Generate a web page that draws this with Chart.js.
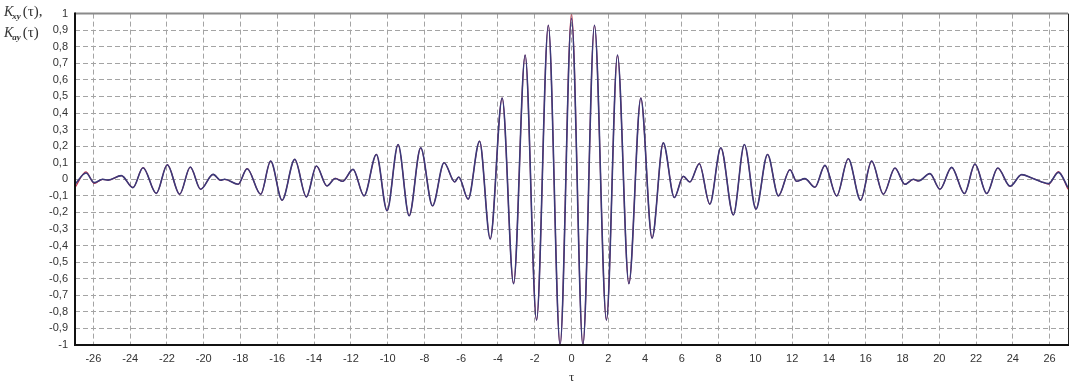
<!DOCTYPE html>
<html>
<head>
<meta charset="utf-8">
<script src="https://cdn.jsdelivr.net/npm/chart.js@4/dist/chart.umd.min.js"></script>
<style>
  html, body { margin: 0; padding: 0; background: #fff; }
  #wrap { position: relative; width: 1074px; height: 388px; }
</style>
</head>
<body>
<div id="wrap"><canvas id="chartCanvas" width="1074" height="388"></canvas></div>
<script>
// Valores (extremos de la curva)
const tau = [
  -27, -26.4, -25.95, -25.5, -25.2, -24.48, -23.85, -23.3, -22.58, -21.98,
  -21.31, -20.73, -20.17, -19.49, -19.08, -18.86, -18.13, -17.64, -16.9, -16.36,
  -15.74, -15.05, -14.42, -13.87, -13.3, -12.85, -12.45, -11.88, -11.28, -10.61,
  -10.03, -9.43, -8.83, -8.2, -7.56, -6.93, -6.35, -6.13, -5.62, -5.0,
  -4.42, -3.77, -3.15, -2.52, -1.9, -1.26, -0.62, 0, 0.62, 1.25,
  1.9, 2.5, 3.12, 3.77, 4.38, 4.99, 5.59, 6.08, 6.44, 6.95,
  7.52, 8.12, 8.8, 9.4, 10.03, 10.66, 11.25, 11.88, 12.24, 12.69,
  13.24, 13.78, 14.42, 15.05, 15.72, 16.32, 16.96, 17.59, 18.13, 18.59,
  18.86, 19.49, 20.04, 20.67, 21.37, 21.94, 22.58, 23.18, 23.85, 24.48,
  25.03, 25.57, 25.94, 26.48, 27
];

const kXY = [
  -0.05, 0.045, -0.025, 0.0, -0.005, 0.022, -0.05, 0.07, -0.085, 0.088,
  -0.09, 0.074, -0.06, 0.03, -0.006, 0.0, -0.03, 0.064, -0.09, 0.11,
  -0.126, 0.12, -0.106, 0.08, -0.04, 0.005, -0.012, 0.06, -0.1, 0.15,
  -0.19, 0.21, -0.22, 0.19, -0.16, 0.1, -0.016, 0.014, -0.12, 0.23,
  -0.36, 0.49, -0.63, 0.75, -0.85, 0.93, -1.0, 1.0, -1.0, 0.93,
  -0.85, 0.75, -0.63, 0.49, -0.355, 0.22, -0.11, 0.018, -0.016, 0.094,
  -0.15, 0.19, -0.215, 0.21, -0.18, 0.15, -0.1, 0.058, -0.012, 0.004,
  -0.048, 0.084, -0.1, 0.124, -0.126, 0.11, -0.09, 0.068, -0.03, 0.0,
  -0.01, 0.034, -0.06, 0.072, -0.086, 0.092, -0.086, 0.068, -0.042, 0.028,
  0.008, -0.016, -0.03, 0.046, -0.06
];

const kAY = [
  -0.03, 0.038, -0.02, 0.0, -0.005, 0.022, -0.05, 0.07, -0.085, 0.088,
  -0.09, 0.074, -0.06, 0.03, -0.006, 0.0, -0.03, 0.064, -0.09, 0.11,
  -0.126, 0.12, -0.106, 0.08, -0.04, 0.005, -0.012, 0.06, -0.1, 0.15,
  -0.19, 0.21, -0.22, 0.19, -0.16, 0.1, -0.016, 0.014, -0.12, 0.23,
  -0.36, 0.49, -0.63, 0.75, -0.85, 0.93, -1.0, 0.97, -1.0, 0.93,
  -0.85, 0.75, -0.63, 0.49, -0.355, 0.22, -0.11, 0.018, -0.016, 0.094,
  -0.15, 0.19, -0.215, 0.21, -0.18, 0.15, -0.1, 0.058, -0.012, 0.004,
  -0.048, 0.084, -0.1, 0.124, -0.126, 0.11, -0.09, 0.068, -0.03, 0.0,
  -0.01, 0.034, -0.06, 0.072, -0.086, 0.092, -0.086, 0.068, -0.042, 0.028,
  0.008, -0.016, -0.026, 0.042, -0.05
];

const xTicks = [-26, -24, -22, -20, -18, -16, -14, -12, -10, -8, -6, -4, -2, 0,
  2, 4, 6, 8, 10, 12, 14, 16, 18, 20, 22, 24, 26];

// Marco del área de trazado y título del eje Y
const framePlugin = {
  id: "frame",
  afterDraw(chart) {
    const { ctx, chartArea } = chart;
    const { left, right, top, bottom } = chartArea;
    ctx.save();
    // borde superior gris
    ctx.strokeStyle = "#8a8a8a";
    ctx.lineWidth = 2;
    ctx.beginPath();
    ctx.moveTo(left, top);
    ctx.lineTo(right, top);
    ctx.stroke();
    // borde derecho
    ctx.strokeStyle = "#222";
    ctx.lineWidth = 1;
    ctx.beginPath();
    ctx.moveTo(right + 0.5, top);
    ctx.lineTo(right + 0.5, bottom);
    ctx.stroke();
    // bordes izquierdo e inferior negros
    ctx.strokeStyle = "#111";
    ctx.lineWidth = 2;
    ctx.beginPath();
    ctx.moveTo(left, top - 1);
    ctx.lineTo(left, bottom);
    ctx.lineTo(right + 1, bottom);
    ctx.stroke();

    // etiqueta K_xy(τ), K_ay(τ)
    ctx.fillStyle = "#333";
    ctx.textBaseline = "alphabetic";
    function label(y, sub, tail) {
      ctx.font = "italic 14px 'Liberation Serif'";
      ctx.fillText("K", 4, y);
      const kw = ctx.measureText("K").width;
      ctx.font = "bold italic 9px 'Liberation Serif'";
      ctx.fillText(sub, 3 + kw, y + 3);
      const sw = ctx.measureText(sub).width;
      ctx.font = "15px 'Liberation Serif'";
      ctx.fillText(tail, 5 + kw + sw, y);
    }
    label(16, "xy", "(τ),");
    label(37, "ay", "(τ)");
    ctx.restore();
  }
};

const ctx = document.getElementById("chartCanvas").getContext("2d");

const chart = new Chart(ctx, {
  type: "line",
  data: {
    datasets: [
      {
        label: "Kxy(τ)",
        data: tau.map((t, i) => ({ x: t, y: kXY[i] })),
        borderColor: "#c0304a",
        borderWidth: 1.2,
        pointRadius: 0,
        fill: false,
        order: 2,
        cubicInterpolationMode: "monotone",
      },
      {
        label: "Kay(τ)",
        data: tau.map((t, i) => ({ x: t, y: kAY[i] })),
        borderColor: "#3a3a7a",
        borderWidth: 1.6,
        pointRadius: 0,
        fill: false,
        order: 1,
        cubicInterpolationMode: "monotone",
      },
    ],
  },
  options: {
    responsive: false,
    animation: false,
    devicePixelRatio: 1,
    layout: { padding: { top: 11, right: 6, left: 0, bottom: 0 } },
    plugins: {
      legend: { display: false },
      tooltip: { enabled: false },
    },
    scales: {
      x: {
        type: "linear",
        min: -27,
        max: 27,
        afterBuildTicks: (s) => { s.ticks = xTicks.map((v) => ({ value: v })); },
        afterFit: (s) => { s.height = 43; },
        grid: { color: "#a4a4a4", drawTicks: false },
        border: { display: false, dash: [5, 3] },
        ticks: {
          autoSkip: false,
          maxRotation: 0,
          padding: 7,
          color: "#333",
          font: { family: "'Liberation Sans', Arial", size: 11 },
          callback: (v) => String(v),
        },
        title: {
          display: true,
          text: "τ",
          color: "#333",
          font: { family: "'Liberation Serif'", size: 13 },
          padding: { top: 2, bottom: 3 },
        },
      },
      y: {
        min: -1,
        max: 1,
        afterFit: (s) => { s.width = 75; },
        grid: { color: "#a4a4a4", drawTicks: false },
        border: { display: false, dash: [5, 3] },
        ticks: {
          stepSize: 0.1,
          padding: 7,
          color: "#333",
          font: { family: "'Liberation Sans', Arial", size: 11 },
          callback: (v) => String(Math.round(v * 10) / 10).replace(".", ","),
        },
      },
    },
  },
  plugins: [framePlugin],
});
</script>
</body>
</html>
